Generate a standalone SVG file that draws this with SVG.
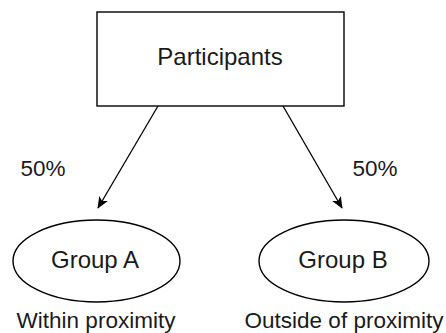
<svg xmlns="http://www.w3.org/2000/svg" width="446" height="333" viewBox="0 0 446 333">
  <style>
    .shape { fill: #ffffff; stroke: #000000; stroke-width: 1.4; }
    .edge { fill: none; stroke: #000000; stroke-width: 1.3; }
    text { font-family: "Liberation Sans", Arial, Helvetica, sans-serif; fill: #1a1a1a; }
    .node-label { font-size: 24px; text-anchor: middle; }
    .note { font-size: 22.5px; text-anchor: middle; }
  </style>
  <defs>
    <marker id="arrow" viewBox="0 0 12 10" refX="11" refY="5" markerWidth="12" markerHeight="10" markerUnits="userSpaceOnUse" orient="auto">
      <path d="M0,0 L12,5 L0,10 L3,5 Z" fill="#000000"/>
    </marker>
  </defs>
  <rect width="446" height="333" fill="#ffffff"/>

  <g id="connectors">
    <line class="edge" x1="158" y1="106" x2="98" y2="208" marker-end="url(#arrow)"/>
    <line class="edge" x1="283" y1="106" x2="342" y2="208" marker-end="url(#arrow)"/>
    <text class="note" x="43" y="176">50%</text>
    <text class="note" x="375" y="176">50%</text>
  </g>

  <g id="participants">
    <rect class="shape" x="97" y="12" width="247" height="94"/>
    <text class="node-label" x="220" y="65">Participants</text>
  </g>

  <g id="group-a">
    <ellipse class="shape" cx="96.5" cy="261" rx="83.5" ry="41"/>
    <text class="node-label" x="95" y="268">Group A</text>
    <text class="note" x="96" y="328">Within proximity</text>
  </g>

  <g id="group-b">
    <ellipse class="shape" cx="344" cy="261" rx="85" ry="41"/>
    <text class="node-label" x="343" y="268">Group B</text>
    <text class="note" x="344" y="328">Outside of proximity</text>
  </g>
</svg>
